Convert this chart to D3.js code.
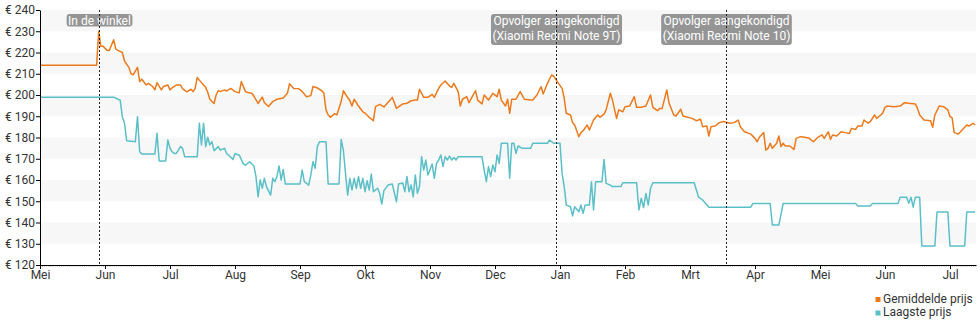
<!DOCTYPE html>
<html><head><meta charset="utf-8">
<script src="https://cdn.jsdelivr.net/npm/d3@7"></script>
<style>
html,body{margin:0;padding:0;background:#fff;}
svg{display:block;font-family:Roboto,"Noto Sans",sans-serif;}
</style></head>
<body><svg id="chart" width="980" height="325"></svg>
<script>
const monthLabels = ["Mei","Jun","Jul","Aug","Sep","Okt","Nov","Dec","Jan","Feb","Mrt","Apr","Mei","Jun","Jul"];
const yTicks = [120,130,140,150,160,170,180,190,200,210,220,230,240];
const seriesNames = ["Gemiddelde prijs","Laagste prijs"];
const seriesColors = ["#ec7a1c","#5bbfc8"];

const avgPrice = [
["2020-05-01",214],["2020-05-28",214],["2020-05-29",230],["2020-05-30",223],["2020-05-31",223],
["2020-06-02",221],["2020-06-03",221],["2020-06-05",226],["2020-06-06",221.6],["2020-06-07",221],
["2020-06-09",220],["2020-06-10",216],["2020-06-12",213],["2020-06-13",210],["2020-06-14",209.5],
["2020-06-16",213],["2020-06-17",206.3],["2020-06-18",207.4],["2020-06-20",204.7],["2020-06-21",205.5],
["2020-06-23",204],["2020-06-24",202.4],["2020-06-25",205.8],["2020-06-27",202.4],["2020-06-28",204],
["2020-06-30",204.7],["2020-07-01",202.4],["2020-07-02",203.4],["2020-07-04",204.7],["2020-07-06",204.7],
["2020-07-07",203],["2020-07-09",201.5],["2020-07-11",202.7],["2020-07-12",201.6],["2020-07-13",203.1],
["2020-07-14",208.3],["2020-07-15",207],["2020-07-17",204.7],["2020-07-18",203.6],["2020-07-19",201.3],
["2020-07-20",198],["2020-07-22",196],["2020-07-23",200],["2020-07-24",202],["2020-07-25",201.6],
["2020-07-27",202.4],["2020-07-28",201.9],["2020-07-30",203.1],["2020-08-01",201.6],["2020-08-03",201],
["2020-08-04",206.3],["2020-08-06",201.6],["2020-08-07",201.2],["2020-08-09",200.8],["2020-08-10",199.5],
["2020-08-12",196],["2020-08-14",199],["2020-08-15",196.5],["2020-08-17",194.6],["2020-08-19",196.9],
["2020-08-21",198],["2020-08-24",198.6],["2020-08-26",200.8],["2020-08-27",205.3],["2020-08-29",203.1],
["2020-08-31",203],["2020-09-01",202.6],["2020-09-02",201.6],["2020-09-04",199.2],["2020-09-06",199.7],
["2020-09-07",204],["2020-09-09",203.3],["2020-09-11",202],["2020-09-12",201],["2020-09-13",193],
["2020-09-14",190.6],["2020-09-15",189.5],["2020-09-17",191.2],["2020-09-18",190.6],["2020-09-20",196.9],
["2020-09-21",202],["2020-09-23",198.8],["2020-09-24",197.4],["2020-09-25",194.8],["2020-09-26",198],
["2020-09-28",194.8],["2020-09-30",192.1],["2020-10-01",191.5],["2020-10-03",189.5],["2020-10-05",187.9],
["2020-10-06",194.5],["2020-10-08",195.6],["2020-10-10",194.4],["2020-10-13",197.6],["2020-10-14",198.9],
["2020-10-16",193.7],["2020-10-19",195.8],["2020-10-21",196.1],["2020-10-23",197.3],["2020-10-25",197.6],
["2020-10-26",197.6],["2020-10-27",202.7],["2020-10-29",198.9],["2020-10-31",198.9],["2020-11-02",200.3],
["2020-11-03",198.9],["2020-11-05",203.1],["2020-11-06",204.7],["2020-11-08",206.6],["2020-11-10",204.2],
["2020-11-11",203.6],["2020-11-12",205.5],["2020-11-14",201.6],["2020-11-15",194.8],["2020-11-16",198],
["2020-11-18",199.2],["2020-11-19",196.4],["2020-11-22",202],["2020-11-23",197.6],["2020-11-25",195.8],
["2020-11-26",200],["2020-11-28",197.6],["2020-11-30",200.8],["2020-12-02",199.2],["2020-12-03",202.7],
["2020-12-04",197.6],["2020-12-06",194.8],["2020-12-07",198],["2020-12-08",191.4],["2020-12-09",198],
["2020-12-11",198],["2020-12-13",201.6],["2020-12-15",198],["2020-12-18",197.6],["2020-12-19",197.6],
["2020-12-21",200],["2020-12-23",203.9],["2020-12-24",200.5],["2020-12-26",205.5],["2020-12-28",209.4],
["2020-12-29",208.9],["2020-12-31",205.8],["2021-01-02",203.1],["2021-01-03",198.4],["2021-01-04",191.4],
["2021-01-06",190.6],["2021-01-07",187],["2021-01-08",185.9],["2021-01-10",180.4],["2021-01-11",182.3],
["2021-01-12",183.2],["2021-01-14",185.9],["2021-01-15",183.5],["2021-01-17",188.2],["2021-01-19",190.6],
["2021-01-20",189.5],["2021-01-22",191],["2021-01-23",193],["2021-01-25",200.8],["2021-01-26",197.6],
["2021-01-28",189],["2021-01-29",193],["2021-01-31",192.1],["2021-02-01",194.5],["2021-02-03",194.8],
["2021-02-05",199.2],["2021-02-06",194.2],["2021-02-08",194.2],["2021-02-10",194.8],["2021-02-12",200],
["2021-02-13",194.2],["2021-02-15",192.6],["2021-02-16",193.7],["2021-02-17",193.7],["2021-02-19",202.4],
["2021-02-20",196.1],["2021-02-22",190.6],["2021-02-23",190.1],["2021-02-25",193.3],["2021-02-26",190.1],
["2021-02-28",189.5],["2021-03-02",189],["2021-03-04",187.9],["2021-03-06",188.6],["2021-03-07",185.1],
["2021-03-09",185.4],["2021-03-10",180.7],["2021-03-11",185.1],["2021-03-13",185.4],["2021-03-15",187],
["2021-03-17",187.5],["2021-03-20",186.7],["2021-03-22",187],["2021-03-24",188.2],["2021-03-25",185.1],
["2021-03-27",182.7],["2021-03-30",181.6],["2021-04-01",179.6],["2021-04-02",178],["2021-04-03",180.1],
["2021-04-05",182.3],["2021-04-06",174.1],["2021-04-07",174.9],["2021-04-08",177.3],["2021-04-09",174.9],
["2021-04-11",177.3],["2021-04-12",180.7],["2021-04-13",175.7],["2021-04-14",177.3],["2021-04-15",176],
["2021-04-17",176],["2021-04-19",174.4],["2021-04-20",179.6],["2021-04-22",180.4],["2021-04-24",180.1],
["2021-04-26",179.6],["2021-04-28",178],["2021-04-30",180.1],["2021-05-02",181.2],["2021-05-03",179.6],
["2021-05-05",182.7],["2021-05-06",179.1],["2021-05-07",181.2],["2021-05-09",180.7],["2021-05-11",182.7],
["2021-05-13",182.3],["2021-05-15",181.9],["2021-05-16",184.3],["2021-05-18",183.8],["2021-05-19",185.4],
["2021-05-21",185.4],["2021-05-22",188.2],["2021-05-24",186.7],["2021-05-25",187.5],["2021-05-27",190.6],
["2021-05-28",189],["2021-05-30",190.6],["2021-05-31",191.7],["2021-06-01",194.2],["2021-06-02",194.8],
["2021-06-05",194.5],["2021-06-08",194.8],["2021-06-10",196.4],["2021-06-12",196.1],["2021-06-15",195.8],
["2021-06-16",193.7],["2021-06-17",190.6],["2021-06-19",188.2],["2021-06-22",187.9],["2021-06-23",184.8],
["2021-06-24",190.6],["2021-06-26",194.8],["2021-06-28",194.5],["2021-06-30",193],["2021-07-01",189.8],
["2021-07-02",189.3],["2021-07-03",182.3],["2021-07-05",181.6],["2021-07-07",183.8],["2021-07-09",185.9],
["2021-07-10",185.4],["2021-07-12",186.7],["2021-07-13",185.9]
];

const lowPrice = [
["2020-05-01",199],["2020-06-05",199],["2020-06-07",198],["2020-06-08",197.6],["2020-06-09",189.8],
["2020-06-10",186.7],["2020-06-11",178.5],["2020-06-15",178],["2020-06-16",189.8],["2020-06-17",173.3],
["2020-06-18",172.2],["2020-06-24",172.2],["2020-06-25",182],["2020-06-26",169],["2020-06-29",169],
["2020-06-30",178.8],["2020-07-01",174.9],["2020-07-02",173.3],["2020-07-03",172.5],["2020-07-04",172.5],
["2020-07-06",175.7],["2020-07-07",174.9],["2020-07-08",171],["2020-07-14",171],["2020-07-15",186.7],
["2020-07-16",176.5],["2020-07-17",186.7],["2020-07-18",175.7],["2020-07-19",180.1],["2020-07-20",176.5],
["2020-07-21",178],["2020-07-22",173.8],["2020-07-24",175.7],["2020-07-25",174.1],["2020-07-27",174.9],
["2020-07-28",172.5],["2020-07-30",170.7],["2020-07-31",169.7],["2020-08-01",172.5],["2020-08-02",172],
["2020-08-03",171.8],["2020-08-05",167.5],["2020-08-06",167],["2020-08-08",168.6],["2020-08-10",166.6],
["2020-08-11",161.6],["2020-08-12",152.1],["2020-08-13",160],["2020-08-14",156.1],["2020-08-15",160.8],
["2020-08-16",156.9],["2020-08-18",152.9],["2020-08-19",160.8],["2020-08-20",159.2],["2020-08-21",161.6],
["2020-08-22",166.6],["2020-08-23",160],["2020-08-24",165],["2020-08-25",158.1],["2020-09-01",158.1],
["2020-09-02",164.7],["2020-09-03",159.2],["2020-09-05",157.6],["2020-09-06",162.4],["2020-09-07",168.6],
["2020-09-08",165.5],["2020-09-09",175.7],["2020-09-10",178],["2020-09-13",178],["2020-09-14",158.1],
["2020-09-19",158.1],["2020-09-20",179.1],["2020-09-21",174.1],["2020-09-22",163.1],["2020-09-23",152.9],
["2020-09-24",160.8],["2020-09-25",155.3],["2020-09-26",160.8],["2020-09-27",156.1],["2020-09-28",161.6],
["2020-09-29",156.1],["2020-09-30",160.8],["2020-10-01",154.5],["2020-10-02",159.7],["2020-10-03",155.3],
["2020-10-04",162.8],["2020-10-05",154.5],["2020-10-07",156.1],["2020-10-08",153.7],["2020-10-09",148.7],
["2020-10-10",155],["2020-10-12",157.6],["2020-10-14",158.1],["2020-10-16",149.8],["2020-10-17",158.1],
["2020-10-19",158.6],["2020-10-20",154.5],["2020-10-21",161.6],["2020-10-22",154.5],["2020-10-23",157.6],
["2020-10-24",152.1],["2020-10-25",162.4],["2020-10-26",153.7],["2020-10-27",156.9],["2020-10-28",171],
["2020-10-29",164.7],["2020-10-30",169.4],["2020-10-31",162.4],["2020-11-02",167.5],["2020-11-03",160.8],
["2020-11-04",167.8],["2020-11-05",169.4],["2020-11-06",171.8],["2020-11-07",166.3],["2020-11-08",171],
["2020-11-09",169.4],["2020-11-10",171.3],["2020-11-11",169.4],["2020-11-12",170.6],["2020-11-13",169.4],
["2020-11-14",171],["2020-11-25",171],["2020-11-26",164.7],["2020-11-27",159.2],["2020-11-28",166.3],
["2020-11-29",161.6],["2020-11-30",167.1],["2020-12-01",163.9],["2020-12-02",171.8],["2020-12-03",167.8],
["2020-12-04",177.3],["2020-12-07",177.3],["2020-12-08",160.8],["2020-12-09",177.3],["2020-12-10",177.3],
["2020-12-11",172.5],["2020-12-12",176],["2020-12-14",174.9],["2020-12-18",174.9],["2020-12-19",177.3],
["2020-12-26",177.3],["2020-12-27",178.8],["2020-12-29",177.3],["2021-01-01",177.3],["2021-01-02",163.1],
["2021-01-03",156.9],["2021-01-04",148.2],["2021-01-06",147.4],["2021-01-07",143.1],["2021-01-08",147.4],
["2021-01-10",145.1],["2021-01-11",148.2],["2021-01-12",144.3],["2021-01-13",148.2],["2021-01-15",148.2],
["2021-01-16",159.2],["2021-01-17",145.9],["2021-01-18",159.2],["2021-01-21",159.2],["2021-01-22",169.7],
["2021-01-23",158.4],["2021-01-25",157.6],["2021-01-26",156.9],["2021-01-30",156.9],["2021-01-31",158.7],
["2021-02-06",158.7],["2021-02-07",145.9],["2021-02-08",151.4],["2021-02-09",147],["2021-02-10",153.7],
["2021-02-11",148.2],["2021-02-12",156.1],["2021-02-13",158.7],["2021-03-03",158.7],["2021-03-05",152.1],
["2021-03-07",150.6],["2021-03-10",147.2],["2021-03-30",147.2],["2021-03-31",149],["2021-04-08",149],
["2021-04-09",138.8],["2021-04-12",138.8],["2021-04-14",149],["2021-05-18",149],["2021-05-19",147.8],
["2021-05-25",147.8],["2021-05-26",149],["2021-06-07",149],["2021-06-08",151.9],["2021-06-11",151.9],
["2021-06-12",149],["2021-06-13",151.9],["2021-06-14",147.2],["2021-06-15",151.9],["2021-06-17",151.9],
["2021-06-18",128.9],["2021-06-24",128.9],["2021-06-25",144.9],["2021-06-30",144.9],["2021-07-01",128.9],
["2021-07-08",128.9],["2021-07-09",144.9],["2021-07-13",144.9]
];

const eventDates = ["2020-05-29","2020-12-30","2021-03-18"];
const eventLabels = [["In de winkel"],["Opvolger aangekondigd","(Xiaomi Redmi Note 9T)"],["Opvolger aangekondigd","(Xiaomi Redmi Note 10)"]];

// ---------- layout ----------
const svg = d3.select("#chart");
const plotL = 40, plotR = 976, plotT = 10, plotB = 265, monthW = 65;
const parse = d3.timeParse("%Y-%m-%d");

const monthStarts = d3.timeMonth.range(new Date(2020,4,1), new Date(2021,7,1));
const fullScale = d3.scaleTime()
  .domain(monthStarts.concat([new Date(2021,7,1)]))
  .range(d3.range(monthStarts.length + 1).map(i => plotL + i*monthW));
const endDate = fullScale.invert(plotR);
const x = d3.scaleTime()
  .domain(monthStarts.concat([endDate]))
  .range(monthStarts.map(d => fullScale(d)).concat([plotR]));
const y = d3.scaleLinear().domain([120,240]).range([plotB, plotT]);

// bands
const bandStarts = yTicks.filter((d,i) => i < yTicks.length-1 && (240 - d) % 20 === 10);
svg.append("g").selectAll("rect").data(bandStarts).join("rect")
  .attr("x", plotL).attr("width", plotR-plotL)
  .attr("y", d => y(d+10)).attr("height", d => y(d) - y(d+10))
  .attr("fill", "#f7f7f7");

// lines
const line = d3.line().x(d => x(parse(d[0]))).y(d => y(d[1]));
[avgPrice, lowPrice].forEach((data, i) => {
  svg.append("path").datum(data)
    .attr("d", line).attr("fill","none")
    .attr("stroke", seriesColors[i]).attr("stroke-width", 1.5)
    .attr("stroke-linejoin","round");
});

// minor day ticks
svg.append("g").attr("transform", `translate(0,${plotB})`)
  .call(d3.axisBottom(x).tickValues(d3.timeDay.range(monthStarts[0], endDate)).tickSize(2).tickSizeOuter(0).tickFormat(""))
  .call(g => g.select(".domain").remove())
  .call(g => g.selectAll("line").attr("stroke","#c8c8c8"));

// x axis
svg.append("g").attr("transform", `translate(0,${plotB})`)
  .call(d3.axisBottom(x).tickValues(monthStarts).tickSize(4).tickSizeOuter(0).tickPadding(1)
    .tickFormat((d,i) => monthLabels[i]))
  .call(g => g.selectAll("text").attr("font-size", 12).attr("fill","#333").attr("font-family","Roboto"))
  .call(g => g.selectAll("line,path").attr("stroke","#000"));

// y axis
svg.append("g").attr("transform", `translate(${plotL},0)`)
  .call(d3.axisLeft(y).tickValues(yTicks).tickSize(4).tickSizeOuter(0).tickPadding(1)
    .tickFormat(d => "€ " + d))
  .call(g => g.selectAll("text").attr("font-size", 12).attr("fill","#333").attr("font-family","Roboto"))
  .call(g => g.selectAll("line,path").attr("stroke","#000"));

// event annotations
eventDates.forEach((ds, i) => {
  const ex = Math.round(x(parse(ds))) + 0.5;
  const lines = eventLabels[i];
  const g = svg.append("g");
  const rect = g.append("rect");
  const texts = lines.map((t, j) => g.append("text").text(t)
    .attr("x", ex).attr("y", 24.5 + j*15).attr("text-anchor","middle")
    .attr("font-size", 12).attr("fill","#fff").attr("font-family","Roboto"));
  const w = d3.max(texts, t => t.node().getComputedTextLength()) + 3;
  const h = lines.length === 1 ? 12.5 : 31;
  rect.attr("x", ex - w/2).attr("y", 14).attr("width", w).attr("height", h)
    .attr("rx", 3).attr("fill", "#8c8c8c").attr("fill-opacity", 0.92);
  g.append("line").attr("x1", ex).attr("x2", ex).attr("y1", plotT).attr("y2", plotB)
    .attr("stroke", "#222").attr("stroke-width", 1).attr("stroke-dasharray", "2,2");
});

// legend
const lg = svg.append("g");
seriesNames.forEach((n, i) => {
  lg.append("rect").attr("x", 875.5).attr("y", 297 + i*13.5).attr("width", 5).attr("height", 5)
    .attr("fill", seriesColors[i]);
  lg.append("text").attr("x", 883).attr("y", 302.5 + i*13.5).text(n)
    .attr("font-size", 12).attr("fill","#333").attr("font-family","Roboto");
});
</script></body></html>
